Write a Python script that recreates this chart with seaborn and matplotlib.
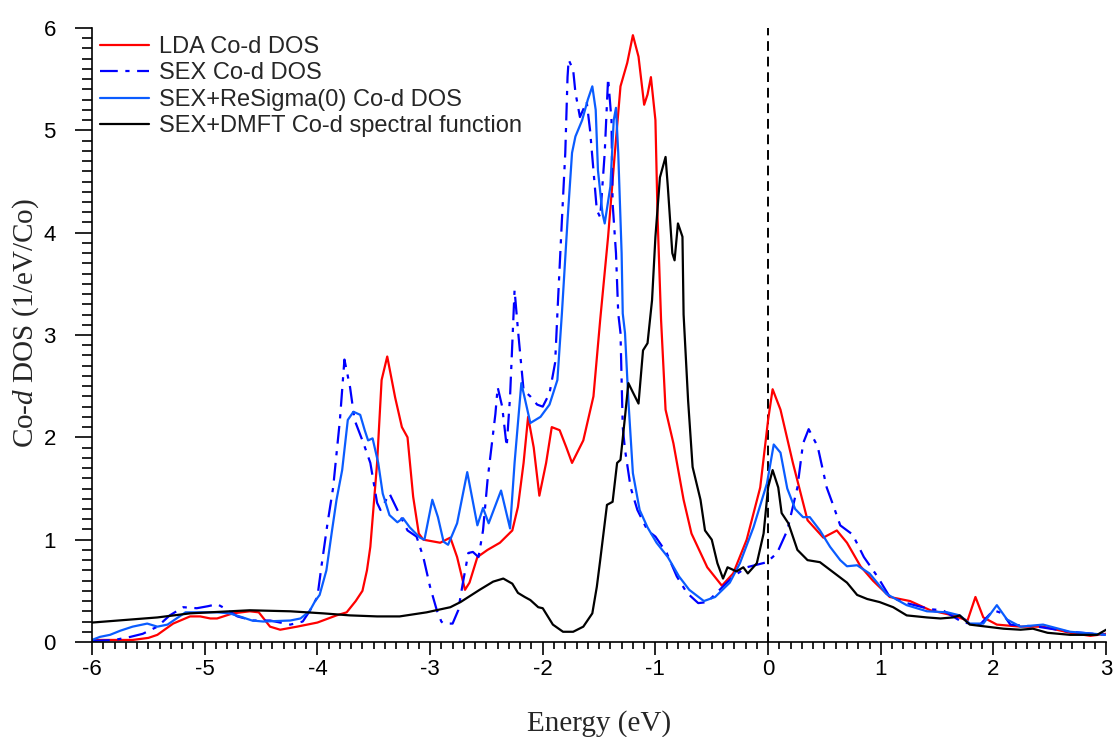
import matplotlib
matplotlib.use("Agg")
import matplotlib.pyplot as plt
import seaborn as sns
from matplotlib.ticker import MultipleLocator

# LDA Co-d DOS
lda_e = [-6.0, -5.64, -5.5, -5.42, -5.28, -5.13, -5.04, -4.95, -4.89, -4.75, -4.6, -4.52,
         -4.42, -4.33, -4.18, -4.0, -3.83, -3.74, -3.66, -3.6, -3.56, -3.53, -3.47, -3.43,
         -3.38, -3.31, -3.25, -3.2, -3.15, -3.1, -3.06, -2.91, -2.82, -2.76, -2.69, -2.65,
         -2.58, -2.49, -2.38, -2.27, -2.22, -2.17, -2.13, -2.08, -2.03, -1.97, -1.92, -1.85,
         -1.79, -1.74, -1.64, -1.55, -1.49, -1.42, -1.36, -1.31, -1.25, -1.2, -1.15, -1.1,
         -1.07, -1.04, -1.0, -0.98, -0.95, -0.91, -0.84, -0.75, -0.68, -0.54, -0.41, -0.31,
         -0.19, -0.07, 0.0, 0.04, 0.11, 0.22, 0.35, 0.49, 0.61, 0.7, 0.82, 0.93, 1.08, 1.26,
         1.44, 1.64, 1.77, 1.84, 1.91, 2.03, 2.24, 2.44, 2.68, 2.86, 3.0]
lda_dos = [0.02, 0.02, 0.04, 0.07, 0.18, 0.25, 0.25, 0.23, 0.23, 0.28, 0.30, 0.29,
           0.15, 0.12, 0.15, 0.19, 0.26, 0.29, 0.4, 0.5, 0.7, 0.93, 1.75, 2.56,
           2.79, 2.39, 2.1, 2.0, 1.42, 1.06, 1.0, 0.97, 1.02, 0.83, 0.51, 0.58,
           0.83, 0.9, 0.97, 1.09, 1.32, 1.75, 2.2, 1.9, 1.43, 1.75, 2.1, 2.07,
           1.9, 1.75, 1.97, 2.4, 3.15, 3.96, 4.78, 5.43, 5.66, 5.93, 5.72, 5.25,
           5.35, 5.52, 5.1, 4.12, 3.15, 2.27, 1.94, 1.39, 1.06, 0.73, 0.55, 0.67,
           1.0, 1.51, 2.17, 2.47, 2.27, 1.75, 1.19, 1.02, 1.09, 0.97, 0.74, 0.6, 0.44, 0.40,
           0.31, 0.26, 0.21, 0.44, 0.24, 0.17, 0.15, 0.15, 0.09, 0.06, 0.08]

# SEX Co-d DOS
sex_e = [-6.0, -5.8, -5.66, -5.55, -5.42, -5.31, -5.19, -5.07, -4.97, -4.89, -4.84, -4.71,
         -4.57, -4.42, -4.24, -4.13, -4.07, -4.0, -3.96, -3.91, -3.86, -3.8, -3.76, -3.71,
         -3.67, -3.59, -3.53, -3.47, -3.44, -3.36, -3.29, -3.2, -3.12, -3.06, -3.0, -2.94,
         -2.9, -2.88, -2.8, -2.75, -2.71, -2.66, -2.62, -2.57, -2.53, -2.49, -2.42, -2.4,
         -2.36, -2.32, -2.29, -2.25, -2.22, -2.17, -2.11, -2.05, -2.0, -1.94, -1.89, -1.87,
         -1.83, -1.8, -1.78, -1.77, -1.73, -1.71, -1.67, -1.61, -1.58, -1.55, -1.52, -1.49,
         -1.45, -1.42, -1.39, -1.38, -1.35, -1.33, -1.31, -1.29, -1.27, -1.22, -1.16, -1.07,
         -1.0, -0.9, -0.81, -0.72, -0.62, -0.54, -0.43, -0.31, -0.19, -0.01, 0.08, 0.17,
         0.26, 0.31, 0.36, 0.44, 0.52, 0.58, 0.64, 0.75, 0.85, 0.97, 1.08, 1.23, 1.44, 1.55,
         1.73, 1.88, 2.0, 2.08, 2.15, 2.39, 2.68, 3.0]
sex_dos = [0.01, 0.02, 0.05, 0.08, 0.15, 0.26, 0.34, 0.33, 0.35, 0.37, 0.34, 0.25,
           0.21, 0.21, 0.17, 0.2, 0.3, 0.44, 0.77, 1.16, 1.51, 2.17, 2.76, 2.49,
           2.17, 1.94, 1.75, 1.36, 1.29, 1.45, 1.29, 1.09, 1.03, 0.83, 0.54, 0.31,
           0.2, 0.18, 0.18, 0.31, 0.57, 0.87, 0.88, 0.83, 1.09, 1.58, 2.23, 2.49,
           2.3, 1.91, 2.4, 3.44, 3.05, 2.46, 2.4, 2.32, 2.3, 2.43, 2.73, 3.21,
           4.12, 4.78, 5.52, 5.69, 5.59, 5.37, 5.13, 5.28, 5.0, 4.61, 4.22, 4.15,
           4.78, 5.51, 5.1, 4.29, 3.8, 3.21, 3.02, 2.1, 1.88, 1.51, 1.29, 1.09,
           1.03, 0.87, 0.64, 0.48, 0.38, 0.39, 0.51, 0.64, 0.73, 0.78, 0.87, 1.09,
           1.51, 1.94, 2.08, 1.91, 1.51, 1.33, 1.14, 1.05, 0.83, 0.64, 0.44, 0.38, 0.32, 0.31,
           0.19, 0.17, 0.31, 0.28, 0.17, 0.15, 0.1, 0.07]

# SEX+ReSigma(0) Co-d DOS
rs_e = [-6.0, -5.93, -5.84, -5.75, -5.64, -5.51, -5.42, -5.33, -5.25, -5.17, -5.04, -4.89,
        -4.78, -4.69, -4.58, -4.48, -4.24, -4.15, -4.07, -4.02, -3.98, -3.92, -3.87, -3.83,
        -3.78, -3.73, -3.68, -3.62, -3.58, -3.55, -3.51, -3.46, -3.42, -3.36, -3.29, -3.24,
        -3.18, -3.09, -3.05, -2.98, -2.93, -2.88, -2.84, -2.76, -2.67, -2.58, -2.53, -2.48,
        -2.37, -2.29, -2.25, -2.19, -2.11, -2.02, -1.94, -1.87, -1.83, -1.78, -1.74, -1.71,
        -1.65, -1.6, -1.56, -1.53, -1.51, -1.47, -1.45, -1.4, -1.37, -1.35, -1.33, -1.3,
        -1.29, -1.27, -1.24, -1.2, -1.14, -1.07, -0.99, -0.89, -0.79, -0.7, -0.57, -0.47,
        -0.34, -0.25, -0.13, -0.01, 0.05, 0.11, 0.17, 0.24, 0.31, 0.37, 0.46, 0.55, 0.64,
        0.7, 0.79, 0.9, 1.05, 1.23, 1.41, 1.59, 1.7, 1.79, 1.91, 2.03, 2.12, 2.24, 2.44,
        2.68, 3.0]
rs_dos = [0.02, 0.05, 0.07, 0.11, 0.15, 0.18, 0.15, 0.17, 0.23, 0.29, 0.29, 0.29,
          0.28, 0.25, 0.21, 0.2, 0.21, 0.23, 0.3, 0.4, 0.46, 0.7, 1.09, 1.39,
          1.68, 2.17, 2.25, 2.22, 2.07, 1.97, 1.99, 1.75, 1.45, 1.24, 1.17, 1.21,
          1.12, 1.02, 1.0, 1.39, 1.22, 0.98, 0.95, 1.16, 1.66, 1.14, 1.31, 1.16,
          1.48, 1.11, 1.75, 2.53, 2.14, 2.2, 2.32, 2.56, 3.21, 4.12, 4.78, 4.94,
          5.1, 5.3, 5.43, 5.2, 4.61, 4.19, 4.09, 4.45, 5.1, 5.22, 4.78, 3.8,
          3.21, 3.02, 2.36, 1.65, 1.29, 1.12, 0.97, 0.83, 0.64, 0.51, 0.40, 0.44,
          0.58, 0.77, 1.12, 1.55, 1.93, 1.85, 1.5, 1.3, 1.22, 1.22, 1.09, 0.93, 0.8,
          0.74, 0.75, 0.67, 0.47, 0.36, 0.3, 0.29, 0.26, 0.18, 0.18, 0.36, 0.22, 0.15, 0.17,
          0.1, 0.07]

# SEX+DMFT Co-d spectral function
dmft_e = [-6.0, -5.42, -5.13, -4.6, -4.24, -3.95, -3.71, -3.47, -3.27, -3.03, -2.82, -2.73,
          -2.56, -2.44, -2.35, -2.27, -2.22, -2.16, -2.11, -2.04, -2.0, -1.91, -1.82, -1.73,
          -1.64, -1.56, -1.52, -1.49, -1.43, -1.38, -1.34, -1.31, -1.27, -1.24, -1.2, -1.15,
          -1.11, -1.07, -1.03, -1.0, -0.96, -0.91, -0.89, -0.85, -0.83, -0.8, -0.76, -0.75,
          -0.71, -0.67, -0.6, -0.56, -0.5, -0.45, -0.4, -0.36, -0.28, -0.22, -0.18, -0.1,
          -0.04, 0.0, 0.04, 0.09, 0.12, 0.18, 0.26, 0.35, 0.46, 0.58, 0.7, 0.79, 0.88, 0.99,
          1.11, 1.23, 1.41, 1.53, 1.64, 1.7, 1.79, 1.94, 2.09, 2.24, 2.35, 2.48, 2.68, 2.92,
          3.0]
dmft_dos = [0.19, 0.24, 0.28, 0.31, 0.3, 0.28, 0.26, 0.25, 0.25, 0.29, 0.34, 0.39,
            0.51, 0.59, 0.62, 0.57, 0.48, 0.44, 0.41, 0.34, 0.33, 0.17, 0.1, 0.1,
            0.15, 0.28, 0.54, 0.8, 1.34, 1.37, 1.75, 1.78, 2.2, 2.53, 2.44, 2.33,
            2.85, 2.92, 3.34, 3.96, 4.54, 4.74, 4.45, 3.8, 3.73, 4.09, 3.96, 3.2,
            2.36, 1.71, 1.39, 1.09, 1.0, 0.77, 0.62, 0.73, 0.69, 0.73, 0.67, 0.77,
            1.06, 1.51, 1.68, 1.51, 1.26, 1.16, 0.9, 0.8, 0.78, 0.68, 0.58, 0.46, 0.42, 0.39,
            0.34, 0.26, 0.24, 0.23, 0.24, 0.26, 0.17, 0.15, 0.13, 0.12, 0.13, 0.09, 0.07, 0.07,
            0.12]

sns.set_style("ticks")
plt.rcParams["font.family"] = ["Liberation Sans", "DejaVu Sans"]
plt.rcParams["axes.unicode_minus"] = False
plt.rcParams["mathtext.fontset"] = "custom"
plt.rcParams["mathtext.rm"] = "Liberation Serif"
plt.rcParams["mathtext.it"] = "Liberation Serif:italic"

fig = plt.figure(figsize=(11.18, 7.37), dpi=100)
ax = fig.add_axes([0.0823, 0.1289, 0.9071, 0.8331])

ax.axvline(0, color="black", lw=1.4, ls=(0, (5, 3)), zorder=1)

sns.lineplot(x=lda_e, y=lda_dos, ax=ax, color="#ff0000", lw=1.6,
             sort=False, estimator=None, label="LDA Co-d DOS")
sns.lineplot(x=sex_e, y=sex_dos, ax=ax, color="#0000ff", lw=1.6,
             linestyle=(0, (8, 3.4, 1.9, 3.4)),
             sort=False, estimator=None, label="SEX Co-d DOS")
sns.lineplot(x=rs_e, y=rs_dos, ax=ax, color="#0a5cff", lw=1.6,
             sort=False, estimator=None, label="SEX+ReSigma(0) Co-d DOS")
sns.lineplot(x=dmft_e, y=dmft_dos, ax=ax, color="black", lw=1.6,
             sort=False, estimator=None, label="SEX+DMFT Co-d spectral function")

ax.set_xlim(-6, 3)
ax.set_ylim(0, 6)
ax.xaxis.set_major_locator(MultipleLocator(1))
ax.xaxis.set_minor_locator(MultipleLocator(0.1))
ax.yaxis.set_major_locator(MultipleLocator(1))
ax.yaxis.set_minor_locator(MultipleLocator(0.1))
ax.tick_params(which="major", direction="out", length=9, width=1.2,
               labelsize=16, color="black", labelcolor="black")
ax.tick_params(which="minor", direction="out", length=5, width=1.2, color="black")
ax.tick_params(axis="x", which="major", pad=3)
ax.tick_params(axis="y", which="major", length=12, pad=14)
ax.tick_params(axis="y", which="minor", length=7)

sns.despine(ax=ax)
for s in ["left", "bottom"]:
    ax.spines[s].set_linewidth(1.2)
    ax.spines[s].set_color("black")

ax.set_xlabel("Energy (eV)", fontsize=21, family="Liberation Serif", labelpad=22)
ax.set_ylabel("Co-$d$ DOS (1/eV/Co)", fontsize=21, family="Liberation Serif")
ax.yaxis.set_label_coords(-0.05, 0.52)

ax.legend(loc="upper left", bbox_to_anchor=(0.008, 0.987), frameon=False, fontsize=17,
          handlelength=2.05, handletextpad=0.45, labelspacing=0.19,
          borderaxespad=0.0, borderpad=0.0)

fig.savefig("out.png", dpi=100)
